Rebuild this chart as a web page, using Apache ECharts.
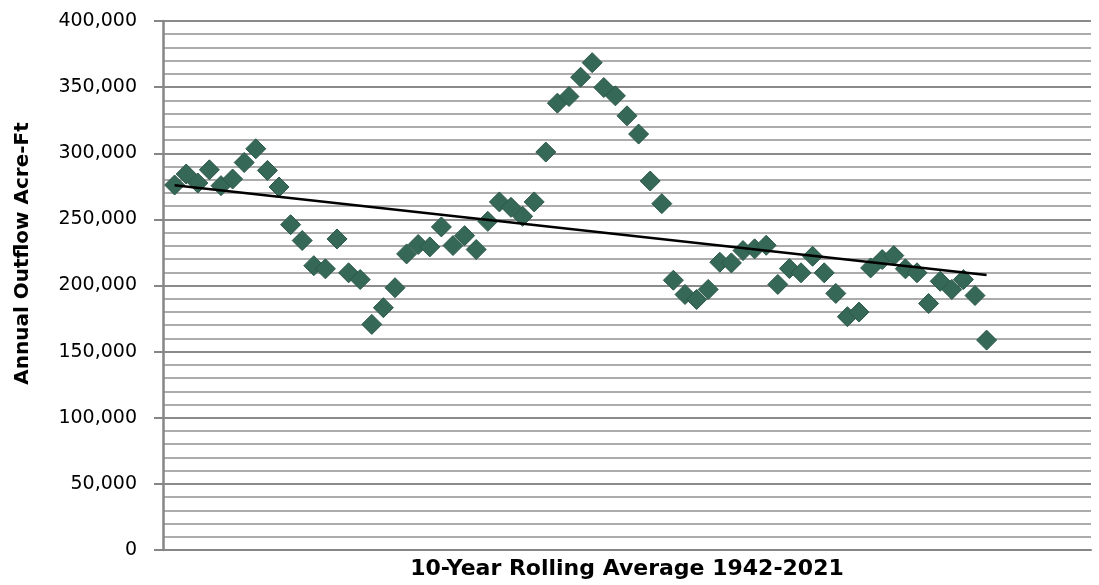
<!DOCTYPE html>
<html>
<head>
<meta charset="utf-8">
<script src="https://cdn.jsdelivr.net/npm/echarts@6/dist/echarts.min.js"></script>
<style>
  html, body { margin: 0; padding: 0; background: #fff; }
  #chart { width: 1099px; height: 585px; }
</style>
</head>
<body>
<div id="chart"></div>
<script>
// 10-year rolling averages, windows ending 1951..2021 (acre-ft)
const windowIndex = Array.from({ length: 71 }, (_, i) => i + 1);
const outflow = [
  276000, 284300, 277500, 287500, 275500, 280500, 293000, 303400, 287000, 274500,
  246000, 234000, 215000, 212600, 235200, 209600, 204500, 170600, 183200, 198300,
  223900, 231000, 229200, 244300, 230200, 237700, 227200, 248500, 263200, 259100,
  252300, 263200, 300900, 337900, 342900, 357500, 368500, 349700, 343400, 328300,
  314500, 279000, 261900, 204000, 193200, 189400, 197000, 217600, 217100, 226400,
  227700, 230400, 200800, 212800, 209600, 222100, 209600, 194000, 176400, 179900,
  213300, 219600, 222600, 212600, 209600, 186400, 203200, 197000, 204500, 192400,
  158700
];
const yTicks = [0, 50000, 100000, 150000, 200000, 250000, 300000, 350000, 400000];

const points = windowIndex.map((x, i) => [x, outflow[i]]);

// linear trend (least squares)
const n = points.length;
const mx = windowIndex.reduce((s, v) => s + v, 0) / n;
const my = outflow.reduce((s, v) => s + v, 0) / n;
let sxy = 0, sxx = 0;
points.forEach(([x, y]) => { sxy += (x - mx) * (y - my); sxx += (x - mx) * (x - mx); });
const slope = sxy / sxx;
const icpt = my - slope * mx;
const xFirst = windowIndex[0], xLast = windowIndex[n - 1];
const trend = [[xFirst, icpt + slope * xFirst], [xLast, icpt + slope * xLast]];

const chart = echarts.init(document.getElementById('chart'));
chart.setOption({
  animation: false,
  textStyle: { fontFamily: '"DejaVu Sans", sans-serif' },
  grid: { left: 163, right: 8, top: 21, bottom: 34 },
  xAxis: {
    type: 'value',
    min: 0,
    max: 80,
    name: '10-Year Rolling Average 1942-2021',
    nameLocation: 'middle',
    nameGap: 8,
    nameTextStyle: { fontSize: 22, fontWeight: 'bold', color: '#000' },
    axisLine: { show: true, lineStyle: { color: '#868686', width: 2 } },
    axisTick: { show: false },
    axisLabel: { show: false },
    splitLine: { show: false }
  },
  yAxis: {
    type: 'value',
    min: 0,
    max: 400000,
    interval: 50000,
    name: 'Annual Outflow Acre-Ft',
    nameLocation: 'middle',
    nameRotate: 90,
    nameGap: 130,
    nameTextStyle: { fontSize: 20, fontWeight: 'bold', color: '#000', padding: [0, 0, 0, 64] },
    axisLine: { show: true, lineStyle: { color: '#868686', width: 2.5 } },
    axisTick: { show: true, length: 9, lineStyle: { color: '#868686', width: 2 } },
    axisLabel: {
      fontSize: 19,
      color: '#000',
      margin: 26,
      formatter: (v) => yTicks.includes(v) ? v.toLocaleString('en-US') : ''
    },
    splitLine: { show: true, lineStyle: { color: '#8a8a8a', width: 2 } },
    minorTick: { show: false, splitNumber: 5 },
    minorSplitLine: { show: true, lineStyle: { color: '#acacac', width: 2 } }
  },
  series: [
    {
      name: 'Outflow',
      type: 'scatter',
      symbol: 'diamond',
      symbolSize: 20,
      itemStyle: { color: '#356856', borderColor: '#2c5848', borderWidth: 1, opacity: 1 },
      data: points,
      z: 3
    },
    {
      name: 'Trend',
      type: 'line',
      data: trend,
      symbol: 'none',
      lineStyle: { color: '#000', width: 2.5 },
      z: 4
    }
  ]
});
</script>
</body>
</html>
